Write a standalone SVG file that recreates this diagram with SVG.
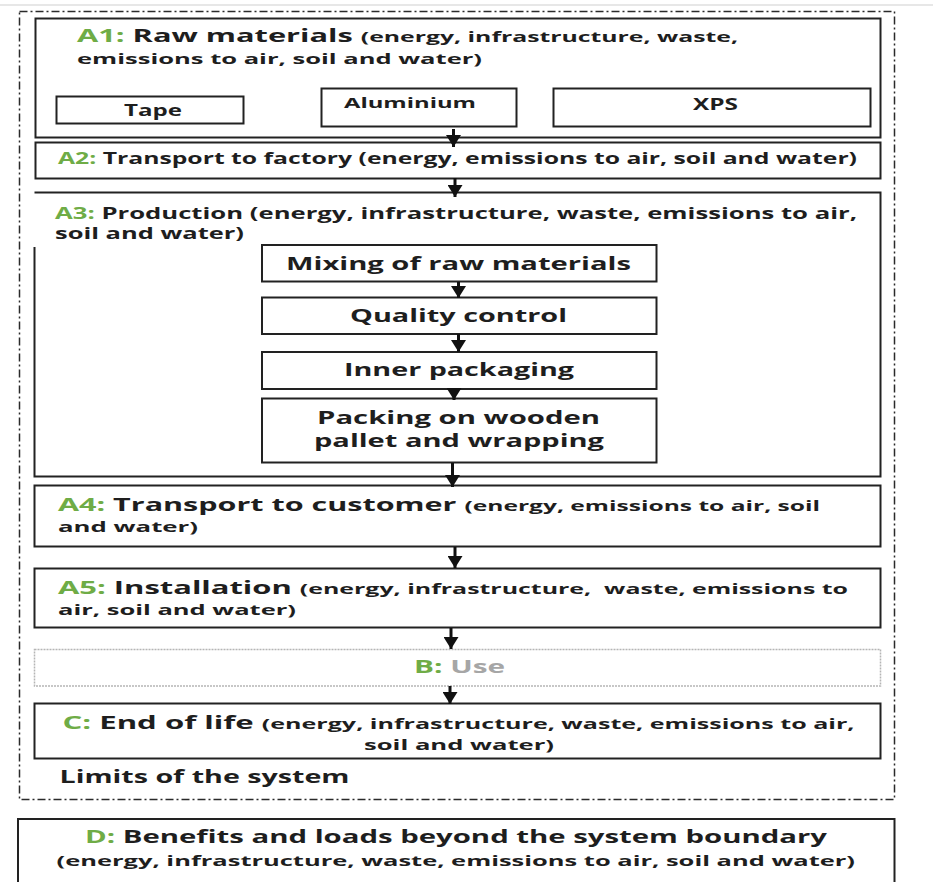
<svg xmlns="http://www.w3.org/2000/svg" width="933" height="882" viewBox="0 0 933 882">
<style>
text{font-family:"Open Sans","Liberation Sans",sans-serif;font-weight:700;fill:#1e1e1e}
.g{fill:#6FAC46}
.u{fill:#A6A6A6}
.L{font-size:18px}
.S{font-size:14.5px}
.M{font-size:15.5px}
.P{font-size:17.5px}
.box{fill:none;stroke:#222;stroke-width:2}
</style>
<defs>
<marker id="ah" markerUnits="userSpaceOnUse" markerWidth="12" markerHeight="15" refX="12" refY="7.5" orient="auto">
<path d="M0,0 L12,7.5 L0,15 z" fill="#111"/>
</marker>
</defs>
<rect width="933" height="882" fill="#fff"/>
<line x1="0" y1="5" x2="933" y2="5" stroke="#cfcfcf" stroke-width="1"/>
<g id="boundary">
<rect x="19.5" y="11.5" width="875" height="788" fill="none" stroke="#2a2a2a" stroke-width="1.5" stroke-dasharray="8,3,2,3"/>
<text class="L" x="59.5" y="783" textLength="290" lengthAdjust="spacingAndGlyphs">Limits of the system</text>
</g>
<g id="A1">
<rect class="box" x="35.5" y="18.5" width="845" height="119"/>
<text x="77" y="42" textLength="661" lengthAdjust="spacingAndGlyphs"><tspan class="g L">A1: </tspan><tspan class="L">Raw materials </tspan><tspan class="S">(energy, infrastructure, waste,</tspan></text>
<text class="S" x="77" y="64" textLength="405" lengthAdjust="spacingAndGlyphs">emissions to air, soil and water)</text>
</g>
<g id="tape">
<rect class="box" x="56.5" y="96.5" width="187" height="27"/>
<text x="124" y="116" textLength="58" lengthAdjust="spacingAndGlyphs" style="font-size:15.5px">Tape</text>
</g>
<g id="aluminium">
<rect class="box" x="321.5" y="88.5" width="195" height="38"/>
<text x="344" y="108" textLength="132" lengthAdjust="spacingAndGlyphs" style="font-size:14.5px">Aluminium</text>
</g>
<g id="xps">
<rect class="box" x="553.5" y="88.5" width="317" height="38"/>
<text x="693" y="110" textLength="45" lengthAdjust="spacingAndGlyphs" style="font-size:15.5px">XPS</text>
</g>
<g id="A2">
<rect class="box" x="35.5" y="142.5" width="845" height="36"/>
<text class="M" x="58" y="164" textLength="799" lengthAdjust="spacingAndGlyphs"><tspan class="g">A2: </tspan>Transport to factory (energy, emissions to air, soil and water)</text>
</g>
<g id="A3">
<path class="box" d="M34.5,247 V476.5 H880.5 V192.5 H34.5"/>
<text class="M" x="55" y="218.5" textLength="802" lengthAdjust="spacingAndGlyphs"><tspan class="g">A3: </tspan>Production (energy, infrastructure, waste, emissions to air,</text>
<text class="M" x="55" y="238.5" textLength="189" lengthAdjust="spacingAndGlyphs">soil and water)</text>
</g>
<g id="mixing">
<rect class="box" x="262" y="245" width="394.5" height="36.5"/>
<text class="P" x="286" y="270" textLength="345" lengthAdjust="spacingAndGlyphs">Mixing of raw materials</text>
</g>
<g id="quality">
<rect class="box" x="262" y="297.5" width="394.5" height="36.5"/>
<text class="P" x="350" y="322" textLength="217" lengthAdjust="spacingAndGlyphs">Quality control</text>
</g>
<g id="inner">
<rect class="box" x="262" y="352" width="394.5" height="37"/>
<text class="P" x="344" y="376" textLength="230" lengthAdjust="spacingAndGlyphs">Inner packaging</text>
</g>
<g id="packing">
<rect class="box" x="262" y="398.5" width="394.5" height="64"/>
<text class="P" x="317" y="424" textLength="283" lengthAdjust="spacingAndGlyphs">Packing on wooden</text>
<text class="P" x="314" y="447" textLength="290" lengthAdjust="spacingAndGlyphs">pallet and wrapping</text>
</g>
<g id="A4">
<rect class="box" x="34.5" y="485.5" width="846" height="61"/>
<text x="58" y="510.5" textLength="762" lengthAdjust="spacingAndGlyphs"><tspan class="g L">A4: </tspan><tspan class="L">Transport to customer </tspan><tspan class="S">(energy, emissions to air, soil</tspan></text>
<text class="S" x="58" y="531.5" textLength="140" lengthAdjust="spacingAndGlyphs">and water)</text>
</g>
<g id="A5">
<rect class="box" x="34.5" y="568.5" width="846" height="59"/>
<text x="58" y="593.5" textLength="790" lengthAdjust="spacingAndGlyphs" xml:space="preserve"><tspan class="g L">A5: </tspan><tspan class="L">Installation </tspan><tspan class="S">(energy, infrastructure,  waste, emissions to</tspan></text>
<text class="S" x="58" y="614.5" textLength="238" lengthAdjust="spacingAndGlyphs">air, soil and water)</text>
</g>
<g id="B">
<rect x="34.5" y="649.5" width="846" height="36.5" fill="none" stroke="#b5b5b5" stroke-width="1.5" stroke-dasharray="2,1"/>
<text class="L" x="414" y="673" textLength="91" lengthAdjust="spacingAndGlyphs"><tspan class="g">B: </tspan><tspan class="u">Use</tspan></text>
</g>
<g id="C">
<rect class="box" x="34.5" y="703.5" width="846" height="55"/>
<text x="62.5" y="728.5" textLength="792" lengthAdjust="spacingAndGlyphs"><tspan class="g L">C: </tspan><tspan class="L">End of life </tspan><tspan class="S">(energy, infrastructure, waste, emissions to air,</tspan></text>
<text class="S" x="364" y="749.5" textLength="190" lengthAdjust="spacingAndGlyphs">soil and water)</text>
</g>
<g id="D">
<rect class="box" x="18" y="819" width="876.5" height="80"/>
<text x="85" y="843" textLength="742" lengthAdjust="spacingAndGlyphs"><tspan class="g L">D: </tspan><tspan class="L">Benefits and loads beyond the system boundary</tspan></text>
<text class="S" x="56.5" y="865.5" textLength="798.5" lengthAdjust="spacingAndGlyphs">(energy, infrastructure, waste, emissions to air, soil and water)</text>
</g>
<g id="connectors" stroke="#111" stroke-width="3" marker-end="url(#ah)">
<line x1="453.5" y1="129" x2="453.5" y2="147"/>
<line x1="455" y1="178" x2="455" y2="197"/>
<line x1="458.5" y1="282" x2="458.5" y2="298"/>
<line x1="458.5" y1="334" x2="458.5" y2="352"/>
<line x1="454" y1="388" x2="454" y2="400"/>
<line x1="452.5" y1="463" x2="452.5" y2="487"/>
<line x1="455" y1="547" x2="455" y2="568"/>
<line x1="451" y1="628" x2="451" y2="649"/>
<line x1="450" y1="686" x2="450" y2="704"/>
</g>
</svg>
